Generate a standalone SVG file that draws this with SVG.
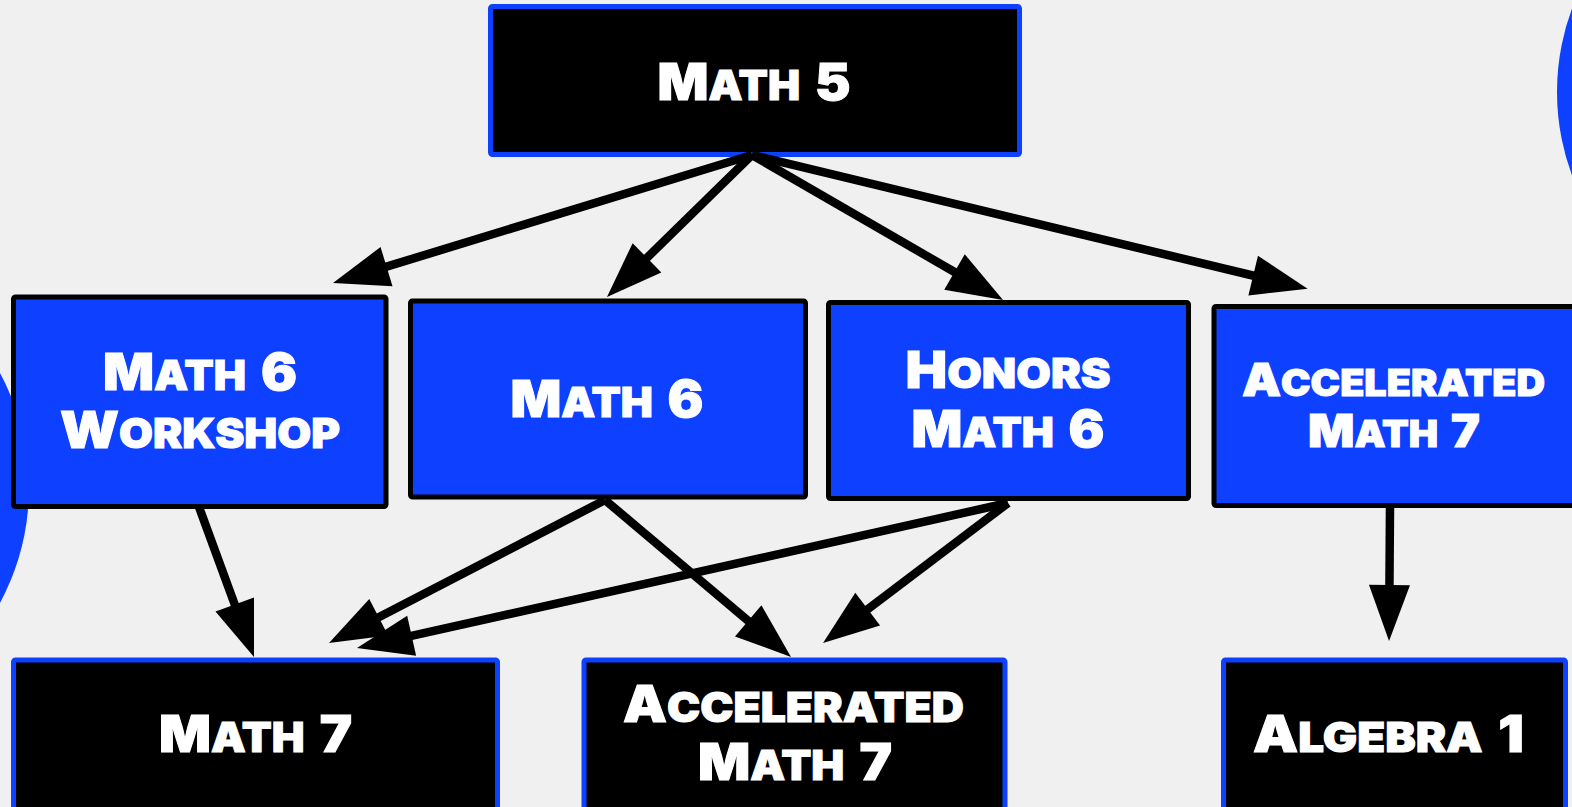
<svg xmlns="http://www.w3.org/2000/svg" width="1572" height="807" viewBox="0 0 1572 807">
<style>
.bg{fill:#f0f0f0}
.circ{fill:#0d40ff}
.nb{fill:#000;stroke:#0d40ff;stroke-width:5}
.nu{fill:#0d40ff;stroke:#000;stroke-width:5}
text{fill:#fff;stroke:#fff;stroke-width:1;font-family:Inter,"DejaVu Sans",sans-serif;font-weight:900;text-anchor:middle}
.b{font-size:51px}
.s{font-size:41px}
.b2{font-size:46px}
.s2{font-size:37px}
.c{stroke:#000;stroke-width:8.5;fill:none;marker-end:url(#ah)}
</style>
<defs>
<marker id="ah" markerUnits="userSpaceOnUse" markerWidth="56" markerHeight="41" refX="6" refY="20.5" orient="auto" overflow="visible">
<path d="M0,0 L56,20.5 L0,41 z" fill="#000"/>
</marker>
</defs>
<rect class="bg" x="0" y="0" width="1572" height="807"/>
<circle class="circ" cx="-213" cy="488" r="242"/>
<circle class="circ" cx="1797" cy="92" r="240"/>

<g id="math5">
<rect class="nb" x="490.5" y="6.5" width="529" height="148" rx="2"/>
<text x="754" y="100" textLength="193" lengthAdjust="spacingAndGlyphs"><tspan class="b">M</tspan><tspan class="s">ATH </tspan><tspan class="b" dx="6">5</tspan></text>
</g>
<g id="math6workshop">
<rect class="nu" x="13.5" y="297" width="372.5" height="209.5" rx="2"/>
<text x="200" y="390" textLength="194" lengthAdjust="spacingAndGlyphs"><tspan class="b">M</tspan><tspan class="s">ATH </tspan><tspan class="b" dx="6">6</tspan></text>
<text x="200" y="448" textLength="280" lengthAdjust="spacingAndGlyphs"><tspan class="b">W</tspan><tspan class="s">ORKSHOP</tspan></text>
</g>
<g id="math6">
<rect class="nu" x="410.5" y="301" width="395" height="196" rx="2"/>
<text x="607" y="417" textLength="193" lengthAdjust="spacingAndGlyphs"><tspan class="b">M</tspan><tspan class="s">ATH </tspan><tspan class="b" dx="6">6</tspan></text>
</g>
<g id="honorsmath6">
<rect class="nu" x="828.5" y="302.5" width="360" height="196" rx="2"/>
<text x="1008" y="388" textLength="205" lengthAdjust="spacingAndGlyphs"><tspan class="b">H</tspan><tspan class="s">ONORS</tspan></text>
<text x="1008" y="447" textLength="193" lengthAdjust="spacingAndGlyphs"><tspan class="b">M</tspan><tspan class="s">ATH </tspan><tspan class="b" dx="6">6</tspan></text>
</g>
<g id="acceleratedmath7a">
<rect class="nu" x="1214" y="306.5" width="400" height="199" rx="2"/>
<text x="1393.5" y="396" textLength="303" lengthAdjust="spacingAndGlyphs"><tspan class="b2">A</tspan><tspan class="s2">CCELERATED</tspan></text>
<text x="1394" y="447" textLength="172" lengthAdjust="spacingAndGlyphs"><tspan class="b2">M</tspan><tspan class="s2">ATH </tspan><tspan class="b2" dx="5">7</tspan></text>
</g>
<g id="math7">
<rect class="nb" x="13.5" y="660" width="484" height="200" rx="2"/>
<text x="255.5" y="752" textLength="193" lengthAdjust="spacingAndGlyphs"><tspan class="b">M</tspan><tspan class="s">ATH </tspan><tspan class="b" dx="6">7</tspan></text>
</g>
<g id="acceleratedmath7b">
<rect class="nb" x="584" y="660" width="421" height="200" rx="2"/>
<text x="793.5" y="722" textLength="341" lengthAdjust="spacingAndGlyphs"><tspan class="b">A</tspan><tspan class="s">CCELERATED</tspan></text>
<text x="795" y="780" textLength="194" lengthAdjust="spacingAndGlyphs"><tspan class="b">M</tspan><tspan class="s">ATH </tspan><tspan class="b" dx="6">7</tspan></text>
</g>
<g id="algebra1">
<rect class="nb" x="1223.5" y="660" width="342" height="200" rx="2"/>
<text x="1388.5" y="752" textLength="271" lengthAdjust="spacingAndGlyphs"><tspan class="b">A</tspan><tspan class="s">LGEBRA </tspan><tspan class="b" dx="6">1</tspan></text>
</g>

<g id="connectors">
<line class="c" x1="752" y1="155" x2="380.8" y2="268.4"/>
<line class="c" x1="752" y1="155" x2="642.7" y2="262"/>
<line class="c" x1="752" y1="155" x2="959.7" y2="275"/>
<line class="c" x1="752" y1="155" x2="1259" y2="277"/>
<line class="c" x1="199" y1="507" x2="236.8" y2="610.1"/>
<line class="c" x1="605" y1="500" x2="373.4" y2="620"/>
<line class="c" x1="605" y1="500" x2="752.8" y2="624.7"/>
<line class="c" x1="1008" y1="503" x2="405.8" y2="637.1"/>
<line class="c" x1="1008" y1="503" x2="862.9" y2="612.8"/>
<line class="c" x1="1390" y1="506" x2="1389.4" y2="591"/>
</g>
</svg>
